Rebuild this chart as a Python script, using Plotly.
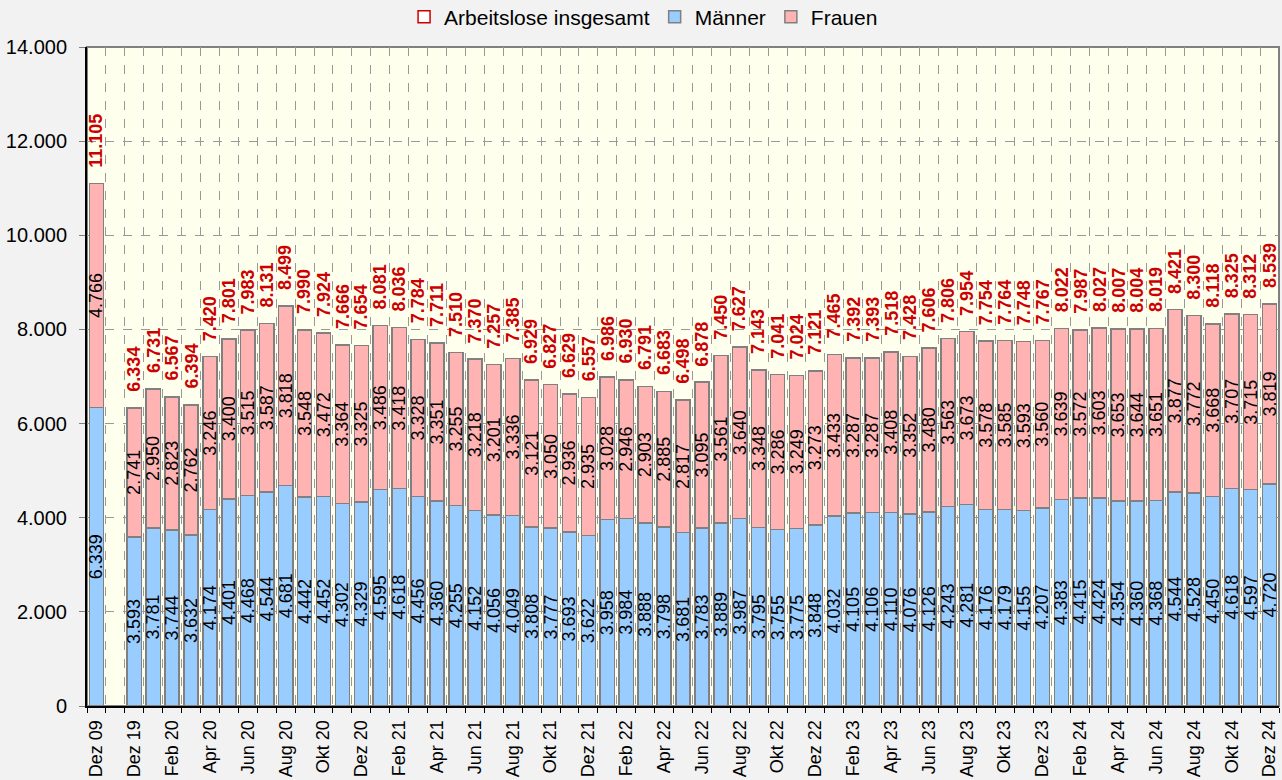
import plotly.graph_objects as go

categories = ["Dez 09", "",
    "Dez 19", "Jan 20", "Feb 20", "Mär 20", "Apr 20", "Mai 20", "Jun 20", "Jul 20", "Aug 20", "Sep 20", "Okt 20", "Nov 20", "Dez 20",
    "Jan 21", "Feb 21", "Mär 21", "Apr 21", "Mai 21", "Jun 21", "Jul 21", "Aug 21", "Sep 21", "Okt 21", "Nov 21", "Dez 21",
    "Jan 22", "Feb 22", "Mär 22", "Apr 22", "Mai 22", "Jun 22", "Jul 22", "Aug 22", "Sep 22", "Okt 22", "Nov 22", "Dez 22",
    "Jan 23", "Feb 23", "Mär 23", "Apr 23", "Mai 23", "Jun 23", "Jul 23", "Aug 23", "Sep 23", "Okt 23", "Nov 23", "Dez 23",
    "Jan 24", "Feb 24", "Mär 24", "Apr 24", "Mai 24", "Jun 24", "Jul 24", "Aug 24", "Sep 24", "Okt 24", "Nov 24", "Dez 24"]

insgesamt = [11105, None,
    6334, 6731, 6567, 6394, 7420, 7801, 7983, 8131, 8499, 7990, 7924, 7666, 7654,
    8081, 8036, 7784, 7711, 7510, 7370, 7257, 7385, 6929, 6827, 6629, 6557,
    6986, 6930, 6791, 6683, 6498, 6878, 7450, 7627, 7143, 7041, 7024, 7121,
    7465, 7392, 7393, 7518, 7428, 7606, 7806, 7954, 7754, 7764, 7748, 7767,
    8022, 7987, 8027, 8007, 8004, 8019, 8421, 8300, 8118, 8325, 8312, 8539]

maenner = [6339, None,
    3593, 3781, 3744, 3632, 4174, 4401, 4468, 4544, 4681, 4442, 4452, 4302, 4329,
    4595, 4618, 4456, 4360, 4255, 4152, 4056, 4049, 3808, 3777, 3693, 3622,
    3958, 3984, 3888, 3798, 3681, 3783, 3889, 3987, 3795, 3755, 3775, 3848,
    4032, 4105, 4106, 4110, 4076, 4126, 4243, 4281, 4176, 4179, 4155, 4207,
    4383, 4415, 4424, 4354, 4360, 4368, 4544, 4528, 4450, 4618, 4597, 4720]

frauen = [4766, None,
    2741, 2950, 2823, 2762, 3246, 3400, 3515, 3587, 3818, 3548, 3472, 3364, 3325,
    3486, 3418, 3328, 3351, 3255, 3218, 3201, 3336, 3121, 3050, 2936, 2935,
    3028, 2946, 2903, 2885, 2817, 3095, 3561, 3640, 3348, 3286, 3249, 3273,
    3433, 3287, 3287, 3408, 3352, 3480, 3563, 3673, 3578, 3585, 3593, 3560,
    3639, 3572, 3603, 3653, 3644, 3651, 3877, 3772, 3668, 3707, 3715, 3819]

y_ticks = [0, 2000, 4000, 6000, 8000, 10000, 12000, 14000]

FONT = "Liberation Sans, Arial, sans-serif"
BLUE = "#99CCFF"
PINK = "#FFB3B3"
RED = "#CC0000"
OUTLINE = "#808080"


def de(v):
    return "" if v is None else f"{v:,}".replace(",", ".")


x = list(range(len(categories)))

fig = go.Figure()

# legend-only entry for the total
fig.add_trace(go.Bar(
    x=[None], y=[None], name="Arbeitslose insgesamt",
    marker=dict(color="white", line=dict(color=RED, width=1.5)),
    hoverinfo="skip"))

fig.add_trace(go.Bar(
    x=x, y=maenner, name="Männer",
    marker=dict(color=BLUE, line=dict(color=OUTLINE, width=1.5)),
    text=[de(v) for v in maenner], textposition="inside",
    insidetextanchor="middle", textangle=-90, constraintext="none",
    textfont=dict(family=FONT, size=18, color="black")))

fig.add_trace(go.Bar(
    x=x, y=frauen, name="Frauen",
    marker=dict(color=PINK, line=dict(color=OUTLINE, width=1.5)),
    text=[de(v) for v in frauen], textposition="inside",
    insidetextanchor="middle", textangle=-90, constraintext="none",
    textfont=dict(family=FONT, size=18, color="black")))

for xi, t in zip(x, insgesamt):
    if t is None:
        continue
    fig.add_annotation(
        x=xi, y=t, xref="x", yref="y", text=f"<b>{de(t)}</b>",
        textangle=-90, showarrow=False, yanchor="bottom", xanchor="center",
        yshift=14, font=dict(family=FONT, size=18, color=RED))

# plot frame (top/right grey)
fig.add_shape(type="rect", xref="x domain", yref="y domain",
              x0=0, x1=1, y0=0, y1=1, line=dict(color=OUTLINE, width=2),
              layer="below")

fig.update_layout(
    width=1282, height=780,
    barmode="stack", bargap=0.25,
    paper_bgcolor="#F2F2F2", plot_bgcolor="#FFFFEE",
    separators=",.",
    font=dict(family=FONT, size=20, color="black"),
    margin=dict(l=87, r=3, t=47, b=74, autoexpand=False),
    legend=dict(orientation="h", xref="container", yref="container",
                x=0.502, y=0.978, xanchor="center", yanchor="middle",
                font=dict(size=21), traceorder="normal",
                itemwidth=30, tracegroupgap=0, bgcolor="rgba(0,0,0,0)"),
    showlegend=True,
)

fig.update_xaxes(
    range=[-0.5, len(categories) - 0.5],
    tickmode="array", tickvals=x[::2], ticktext=categories[::2],
    tickangle=-90, tickfont=dict(size=18),
    ticks="outside", ticklen=5, tickcolor="rgba(0,0,0,0)",
    showgrid=False, showline=True, linecolor="black", linewidth=2,
    zeroline=False, automargin=False,
    minor=dict(tickmode="array", tickvals=[i - 0.5 for i in range(len(categories) + 1)],
               ticks="outside", ticklen=5, tickcolor="black", tickwidth=1,
               showgrid=True, gridcolor="#999999", griddash="dash", gridwidth=1),
)

fig.update_yaxes(
    range=[0, 14000], tickmode="array", tickvals=y_ticks,
    tickformat=",d", tickfont=dict(size=20),
    ticks="outside", ticklen=6, tickcolor="#808080", ticklabelstandoff=8,
    showgrid=True, gridcolor="#999999", griddash="dash", gridwidth=1,
    showline=True, linecolor="black", linewidth=2, zeroline=False, automargin=False,
)

fig.write_html("out.html", config={"displayModeBar": False},
               post_script="document.body.style.margin='0px';document.body.style.overflow='hidden';")
